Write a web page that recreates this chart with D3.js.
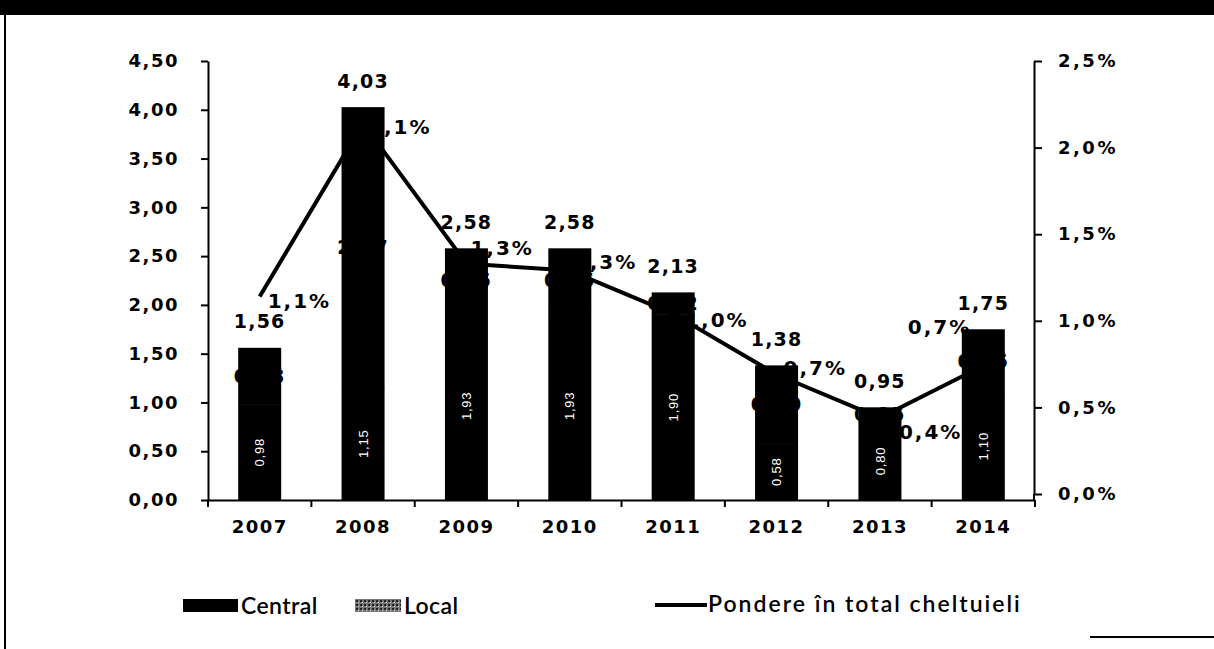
<!DOCTYPE html>
<html>
<head>
<meta charset="utf-8">
<script src="https://cdn.jsdelivr.net/npm/d3@7"></script>
<style>
  body { margin: 0; background: #fff; }
  svg { display: block; }
</style>
</head>
<body>
<svg id="chart" width="1214" height="649"></svg>
<script>
// date
var years = ['2007', '2008', '2009', '2010', '2011', '2012', '2013', '2014']
var central = [0.98, 1.153, 1.93, 1.93, 1.904, 0.58, 0.80, 1.10]
var local = [0.58, 2.874, 0.65, 0.65, 0.224, 0.80, 0.15, 0.65]
var pondere = [1.14, 2.14, 1.33, 1.29, 1.04, 0.69, 0.44, 0.74]   // % din total cheltuieli
var leftTicks = [0, 0.5, 1, 1.5, 2, 2.5, 3, 3.5, 4, 4.5]
var rightTicks = [0, 0.5, 1, 1.5, 2, 2.5]

// pozitia etichetelor de procent (mutate manual ca in original)
var pctDx = [8, 5, 4, 4, 12, 7, 19, -12]
var pctDy = [4, 4, -16, -9, 6, -6, 14, -39]

var svg = d3.select('#chart')
var virgula = function(f){ return function(d){ return d3.format(f)(d).replace('.', ',') } }
var fmt2 = virgula('.2f')
var fmt1 = virgula('.1f')
var bold = 'DejaVu Sans, Verdana, sans-serif'

// rama scanata
svg.append('rect').attr('x', 0).attr('y', 0).attr('width', 1214).attr('height', 15).attr('fill', '#000')
svg.append('line').attr('x1', 5).attr('x2', 5).attr('y1', 15).attr('y2', 649).attr('stroke', '#000').attr('stroke-width', 2)
svg.append('line').attr('x1', 1090).attr('x2', 1214).attr('y1', 637).attr('y2', 637).attr('stroke', '#000').attr('stroke-width', 2)

var x = d3.scaleBand().domain(years).range([208, 1035]).paddingInner(0.584).paddingOuter(0.292)
var yL = d3.scaleLinear().domain([0, 4.5]).range([500, 61])
var yR = d3.scaleLinear().domain([0, 2.5]).range([494, 61])
var cx = function(d, i){ return x(years[i]) + x.bandwidth() / 2 }

// bare (in scan ambele serii ies negre)
var g = svg.append('g')
g.selectAll('.central').data(central).enter().append('rect')
    .attr('x', function(d, i){ return x(years[i]) })
    .attr('width', x.bandwidth())
    .attr('y', function(d){ return yL(d) })
    .attr('height', function(d){ return yL(0) - yL(d) })
    .attr('fill', '#000')
g.selectAll('.local').data(local).enter().append('rect')
    .attr('x', function(d, i){ return x(years[i]) })
    .attr('width', x.bandwidth())
    .attr('y', function(d, i){ return yL(central[i] + d) })
    .attr('height', function(d, i){ return yL(central[i]) - yL(central[i] + d) + 0.5 })
    .attr('fill', '#000')

// axe
var axL = svg.append('g').attr('transform', 'translate(208,0)')
    .call(d3.axisLeft(yL).tickValues(leftTicks).tickFormat(fmt2).tickSize(7).tickSizeOuter(0).tickPadding(22))
var axR = svg.append('g').attr('transform', 'translate(1034,0)')
    .call(d3.axisRight(yR).tickValues(rightTicks).tickFormat(function(d){ return fmt1(d) + '%' }).tickSize(8).tickSizeOuter(0).tickPadding(16))
svg.append('line').attr('x1', 1034).attr('x2', 1034).attr('y1', 494).attr('y2', 500).attr('stroke', '#000').attr('stroke-width', 2)
var axX = svg.append('g').attr('transform', 'translate(0,500)')
    .call(d3.axisBottom(x).tickSize(0).tickPadding(20))
axX.selectAll('.bound').data(d3.range(years.length + 1)).enter().append('line')
    .attr('x1', function(d){ return 208 + d * x.step() })
    .attr('x2', function(d){ return 208 + d * x.step() })
    .attr('y1', 0).attr('y2', 7)
    .attr('stroke', '#000').attr('stroke-width', 2)

;[axL, axR, axX].forEach(function(a){
    a.select('.domain').attr('stroke-width', 2)
    a.selectAll('.tick line').attr('stroke-width', 2)
    a.selectAll('.tick text').attr('font-family', bold).attr('font-weight', 'bold')
        .attr('font-size', '18px').attr('letter-spacing', '1.5px').attr('fill', '#000')
})
axR.selectAll('.tick text').attr('letter-spacing', '2.5px')

// linia de pondere
var line = d3.line().x(function(d, i){ return cx(d, i) }).y(function(d){ return yR(d) })
svg.append('path').datum(pondere).attr('d', line)
    .attr('fill', 'none').attr('stroke', '#000').attr('stroke-width', 4).attr('stroke-linejoin', 'round')

// etichete central (alb, vertical)
svg.selectAll('.lblc').data(central).enter().append('text')
    .attr('transform', function(d, i){ return 'translate(' + cx(d, i) + ',' + yL(d / 2) + ') rotate(-90)' })
    .attr('text-anchor', 'middle').attr('dy', '0.35em')
    .attr('font-family', 'Liberation Sans Narrow, Arial Narrow, Liberation Sans, sans-serif')
    .attr('font-size', '13px').attr('letter-spacing', '0.8px').attr('fill', '#fff')
    .text(fmt2)

var dataLbl = function(sel){
    sel.attr('dy', '0.35em')
        .attr('font-family', bold).attr('font-weight', 'bold')
        .attr('font-size', '19px').attr('letter-spacing', '1.2px').attr('fill', '#000')
}

// etichete local (negru pe negru)
svg.selectAll('.lbll').data(local).enter().append('text')
    .attr('x', cx)
    .attr('y', function(d, i){ return yL(central[i] + d / 2) })
    .attr('text-anchor', 'middle')
    .call(dataLbl)
    .text(fmt2)

// etichete total
svg.selectAll('.lblt').data(central).enter().append('text')
    .attr('x', cx)
    .attr('y', function(d, i){ return yL(d + local[i]) - 26 })
    .attr('text-anchor', 'middle')
    .call(dataLbl)
    .text(function(d, i){ return fmt2(d + local[i]) })

// etichete procent
svg.selectAll('.lblp').data(pondere).enter().append('text')
    .attr('x', function(d, i){ return cx(d, i) + pctDx[i] })
    .attr('y', function(d, i){ return yR(d) + pctDy[i] })
    .attr('text-anchor', function(d, i){ return pctDx[i] < 0 ? 'end' : 'start' })
    .call(dataLbl)
    .attr('font-size', '20px').attr('letter-spacing', '2px')
    .text(function(d){ return fmt1(d) + '%' })

// legenda
var defs = svg.append('defs')
var pat = defs.append('pattern').attr('id', 'localPat').attr('width', 4).attr('height', 4).attr('patternUnits', 'userSpaceOnUse')
pat.append('rect').attr('width', 4).attr('height', 4).attr('fill', '#777')
pat.append('rect').attr('width', 2).attr('height', 2).attr('fill', '#222')
pat.append('rect').attr('x', 2).attr('y', 2).attr('width', 1).attr('height', 1).attr('fill', '#ddd')

var leg = svg.append('g').attr('font-family', 'Lato, Calibri, sans-serif').attr('font-size', '23px').attr('font-weight', '600')
leg.append('rect').attr('x', 183).attr('y', 599).attr('width', 55).attr('height', 13).attr('fill', '#000')
leg.append('text').attr('x', 241).attr('y', 606).attr('dy', '0.35em').attr('letter-spacing', '0.4px').text('Central')
leg.append('rect').attr('x', 355).attr('y', 599).attr('width', 46).attr('height', 13).attr('fill', 'url(#localPat)')
leg.append('text').attr('x', 404).attr('y', 606).attr('dy', '0.35em').attr('letter-spacing', '0.4px').text('Local')
leg.append('line').attr('x1', 655).attr('x2', 707).attr('y1', 605).attr('y2', 605).attr('stroke', '#000').attr('stroke-width', 4)
leg.append('text').attr('x', 708).attr('y', 604).attr('dy', '0.35em').attr('letter-spacing', '2px').text('Pondere în total cheltuieli')
</script>
</body>
</html>
